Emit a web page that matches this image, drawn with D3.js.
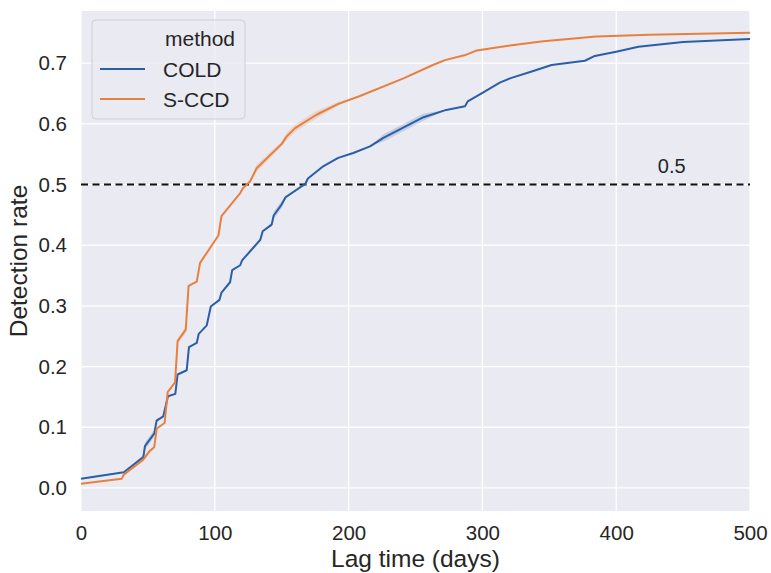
<!DOCTYPE html>
<html>
<head>
<meta charset="utf-8">
<script src="https://cdn.jsdelivr.net/npm/d3@7"></script>
<style>
  body { margin: 0; background: #fff; }
  svg { font-family: "Liberation Sans", Arial, sans-serif; }
</style>
</head>
<body>
<script>
const width = 771;
const height = 573;
const margin = {top: 11, right: 21, bottom: 62, left: 81};

// lag time (days) and detection rate
const coldDays = [0, 32, 46.6, 47.8, 54.8, 56.5, 61.5, 65, 70.5, 72.2, 79, 80.7, 86.5, 88, 94, 97, 103.5, 105, 111.4, 113, 119, 120.4, 134, 135.8, 142.5, 144, 149.9, 152.9, 167.6, 169.6, 181, 192.2, 203.5, 216, 226, 256, 273, 287, 289, 300.7, 313, 320.6, 338, 351.7, 376.6, 384, 400, 416.6, 450, 500];
const coldRate = [0.015, 0.026, 0.051, 0.069, 0.09, 0.111, 0.118, 0.151, 0.155, 0.187, 0.194, 0.232, 0.239, 0.254, 0.268, 0.299, 0.31, 0.322, 0.339, 0.359, 0.367, 0.375, 0.409, 0.423, 0.434, 0.449, 0.467, 0.479, 0.501, 0.51, 0.53, 0.544, 0.552, 0.563, 0.577, 0.611, 0.623, 0.629, 0.637, 0.652, 0.668, 0.675, 0.687, 0.697, 0.704, 0.712, 0.719, 0.727, 0.735, 0.740];
// half width of the confidence band (mostly invisible)
const coldCi = [0, 0, 0.004, 0.006, 0.006, 0.003, 0, 0, 0, 0, 0, 0, 0, 0, 0, 0, 0, 0, 0, 0, 0, 0, 0, 0, 0.003, 0.006, 0.006, 0.003, 0, 0, 0, 0, 0, 0, 0.006, 0.006, 0, 0, 0, 0, 0, 0, 0, 0, 0, 0, 0, 0, 0, 0];

const sccdDays = [0, 30.4, 32, 46.6, 51, 54.7, 56.6, 62.5, 64.8, 70.3, 72.2, 78.3, 80.4, 86.5, 89, 102.7, 105, 119, 121, 126.3, 131.3, 150, 153.6, 160, 176, 192.3, 208.5, 241, 263, 272, 288, 295.8, 320.6, 345.5, 385, 425, 500];
const sccdRate = [0.007, 0.015, 0.022, 0.047, 0.06, 0.067, 0.098, 0.107, 0.158, 0.174, 0.242, 0.261, 0.333, 0.34, 0.371, 0.416, 0.448, 0.486, 0.494, 0.505, 0.527, 0.567, 0.579, 0.593, 0.615, 0.633, 0.646, 0.675, 0.697, 0.705, 0.714, 0.721, 0.729, 0.736, 0.744, 0.747, 0.750];
const sccdCi = [0, 0, 0, 0.004, 0.004, 0, 0, 0, 0, 0, 0.004, 0.006, 0, 0, 0, 0, 0, 0, 0, 0.003, 0.006, 0.004, 0.006, 0.006, 0.006, 0.003, 0, 0, 0, 0, 0, 0, 0, 0, 0, 0, 0];

const methods = ['COLD', 'S-CCD'];
const colors = ['#2b5ea7', '#e8803d'];
const xTicks = [0, 100, 200, 300, 400, 500];
const yTicks = [0, 0.1, 0.2, 0.3, 0.4, 0.5, 0.6, 0.7];
const threshold = 0.5;

const series = [
  {name: methods[0], color: colors[0], pts: coldDays.map((d, i) => ({x: d, y: coldRate[i], ci: coldCi[i]}))},
  {name: methods[1], color: colors[1], pts: sccdDays.map((d, i) => ({x: d, y: sccdRate[i], ci: sccdCi[i]}))}
];

const svg = d3.select('body').append('svg')
  .attr('width', width).attr('height', height);

const x = d3.scaleLinear().domain([0, 500]).range([margin.left, width - margin.right]);
const y = d3.scaleLinear().domain([-0.038, 0.786]).range([height - margin.bottom, margin.top]);

svg.append('rect')
  .attr('x', margin.left).attr('y', margin.top)
  .attr('width', x(500) - x(0)).attr('height', y(-0.038) - y(0.786))
  .attr('fill', '#eaeaf2');

// grid
const grid = svg.append('g').attr('stroke', '#fff').attr('stroke-width', 1.3);
grid.selectAll('.gx').data(xTicks).join('line')
  .attr('x1', d => x(d)).attr('x2', d => x(d))
  .attr('y1', margin.top).attr('y2', height - margin.bottom);
grid.selectAll('.gy').data(yTicks).join('line')
  .attr('y1', d => y(d)).attr('y2', d => y(d))
  .attr('x1', margin.left).attr('x2', width - margin.right);

// axes (tick labels only, seaborn darkgrid style)
const xAxis = svg.append('g')
  .attr('transform', `translate(0,${height - margin.bottom})`)
  .call(d3.axisBottom(x).tickValues(xTicks).tickSize(0).tickPadding(14).tickFormat(d3.format('d')));
const yAxis = svg.append('g')
  .attr('transform', `translate(${margin.left},0)`)
  .call(d3.axisLeft(y).tickValues(yTicks).tickSize(0).tickPadding(14).tickFormat(d3.format('.1f')));
[xAxis, yAxis].forEach(a => {
  a.select('.domain').remove();
  a.selectAll('text').attr('font-size', 20.5).attr('fill', '#262626')
    .attr('font-family', '"Liberation Sans", Arial, sans-serif');
});

// confidence bands
const area = d3.area().x(d => x(d.x)).y0(d => y(d.y - d.ci)).y1(d => y(d.y + d.ci));
svg.append('g').selectAll('path').data(series).join('path')
  .attr('d', s => area(s.pts))
  .attr('fill', s => s.color).attr('fill-opacity', 0.2);

// threshold line
svg.append('line')
  .attr('x1', x(0)).attr('x2', x(500))
  .attr('y1', y(threshold)).attr('y2', y(threshold))
  .attr('stroke', '#111').attr('stroke-width', 2)
  .attr('stroke-dasharray', '7,4.5');
svg.append('text')
  .attr('x', x(441.5)).attr('y', y(threshold) - 12)
  .attr('text-anchor', 'middle').attr('font-size', 20).attr('fill', '#262626')
  .text(threshold.toFixed(1));

// lines
const line = d3.line().x(d => x(d.x)).y(d => y(d.y));
svg.append('g').selectAll('path').data(series).join('path')
  .attr('d', s => line(s.pts))
  .attr('fill', 'none').attr('stroke', s => s.color)
  .attr('stroke-width', 2).attr('stroke-linejoin', 'round');

// axis labels
svg.append('text')
  .attr('x', (x(0) + x(500)) / 2).attr('y', 567)
  .attr('text-anchor', 'middle').attr('font-size', 24.5).attr('fill', '#262626')
  .text('Lag time (days)');
svg.append('text')
  .attr('transform', `translate(27,${(y(-0.038) + y(0.786)) / 2}) rotate(-90)`)
  .attr('text-anchor', 'middle').attr('font-size', 24.5).attr('fill', '#262626')
  .text('Detection rate');

// legend
const legend = svg.append('g').attr('transform', 'translate(92,20)');
legend.append('rect')
  .attr('width', 153).attr('height', 99).attr('rx', 4)
  .attr('fill', '#eaeaf2').attr('fill-opacity', 0.8)
  .attr('stroke', '#cfcfd6').attr('stroke-width', 1);
legend.append('text')
  .attr('x', 108).attr('y', 26).attr('text-anchor', 'middle')
  .attr('font-size', 21).attr('fill', '#262626').text('method');
const items = legend.selectAll('.item').data(series).join('g')
  .attr('transform', (d, i) => `translate(0,${49 + i * 30})`);
items.append('line')
  .attr('x1', 8).attr('x2', 53)
  .attr('stroke', d => d.color).attr('stroke-width', 2);
items.append('text')
  .attr('x', 71).attr('y', 7.5)
  .attr('font-size', 21).attr('fill', '#262626')
  .text(d => d.name);
</script>
</body>
</html>
